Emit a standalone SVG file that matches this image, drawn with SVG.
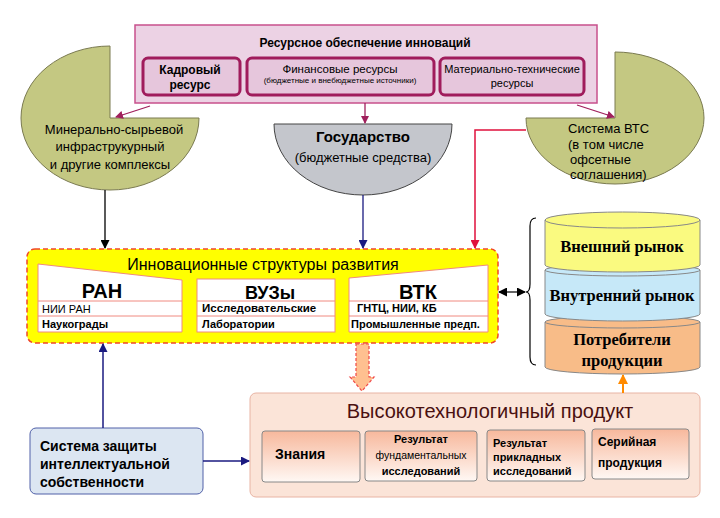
<svg xmlns="http://www.w3.org/2000/svg" width="720" height="518" viewBox="0 0 720 518">
<style>
.s{font-family:"Liberation Sans",Arial,sans-serif;fill:#000}
.b{font-weight:bold}
.m{text-anchor:middle}
.serif{font-family:"Liberation Serif","Times New Roman",serif;font-weight:bold;text-anchor:middle;fill:#000}
.sub{fill:#e6c6dc;stroke:#a01c5c;stroke-width:3}
.row{fill:none;stroke:#f08a80;stroke-width:1}
.wbox{fill:#fff;stroke:#f08a80;stroke-width:1}
.pbox{stroke:#888;stroke-width:1;fill:url(#pg)}
.cyl{stroke:#888;stroke-width:1}
</style>
<defs>
<linearGradient id="pg" x1="0" y1="0" x2="0" y2="1">
<stop offset="0" stop-color="#f7b89c"/>
<stop offset="1" stop-color="#fff8f4"/>
</linearGradient>
<marker id="aM" markerWidth="8" markerHeight="8" refX="7" refY="4" orient="auto" markerUnits="userSpaceOnUse"><path d="M0,0 L8,4 L0,8 z" fill="#a0205c"/></marker>
<marker id="aK" markerWidth="9" markerHeight="9" refX="8" refY="4.5" orient="auto" markerUnits="userSpaceOnUse"><path d="M0,0 L9,4.5 L0,9 z" fill="#000"/></marker>
<marker id="aKs" markerWidth="9" markerHeight="9" refX="1" refY="4.5" orient="auto" markerUnits="userSpaceOnUse"><path d="M9,0 L0,4.5 L9,9 z" fill="#000"/></marker>
<marker id="aN" markerWidth="9" markerHeight="9" refX="8" refY="4.5" orient="auto" markerUnits="userSpaceOnUse"><path d="M0,0 L9,4.5 L0,9 z" fill="#1a1a80"/></marker>
<marker id="aR" markerWidth="9" markerHeight="9" refX="8" refY="4.5" orient="auto" markerUnits="userSpaceOnUse"><path d="M0,0 L9,4.5 L0,9 z" fill="#e0103c"/></marker>
<marker id="aO" markerWidth="10" markerHeight="10" refX="9" refY="5" orient="auto" markerUnits="userSpaceOnUse"><path d="M0,0 L10,5 L0,10 z" fill="#ff8a00"/></marker>
</defs>

<g id="resources">
<rect x="135" y="25" width="462" height="78" fill="#ecd2e4" stroke="#c8508c" stroke-width="1.5"/>
<text class="s b m" x="365" y="47" font-size="12">Ресурсное обеспечение инноваций</text>
<rect class="sub" x="143" y="58" width="97" height="37" rx="5"/>
<text class="s b m" x="190" y="74" font-size="12">Кадровый</text>
<text class="s b m" x="190" y="89" font-size="12">ресурс</text>
<rect class="sub" x="247" y="58" width="187" height="37" rx="5"/>
<text class="s m" x="340" y="73" font-size="11.5">Финансовые ресурсы</text>
<text class="s m" x="340" y="83" font-size="8">(бюджетные и внебюджетные источники)</text>
<rect class="sub" x="440" y="58" width="144" height="37" rx="5"/>
<text class="s m" x="512" y="73" font-size="11">Материально-технические</text>
<text class="s m" x="512" y="87" font-size="11">ресурсы</text>
</g>

<g id="mineral">
<path d="M110,118 L199,118 A89,72 0 1,1 110,46 Z" fill="#c4c882" stroke="#7a7a50" stroke-width="1"/>
<text class="s m" x="114" y="134" font-size="13">Минерально-сырьевой</text>
<text class="s m" x="110" y="151" font-size="13">инфраструкурный</text>
<text class="s m" x="110" y="169" font-size="13">и другие комплексы</text>
</g>

<g id="gov">
<path d="M274,124 L452,124 A89,71 0 0,1 274,124 Z" fill="#c4c6cc" stroke="#444" stroke-width="1"/>
<text class="s b m" x="363" y="142" font-size="15">Государство</text>
<text class="s m" x="363" y="162" font-size="13">(бюджетные средства)</text>
</g>

<g id="vts">
<path d="M615,118 L615,52 A89,66 0 1,1 526,118 Z" fill="#c4c882" stroke="#7a7a50" stroke-width="1"/>
<text class="s" x="568" y="133" font-size="13">Система ВТС</text>
<text class="s" x="568" y="149" font-size="13">(в том числе</text>
<text class="s" x="570" y="164" font-size="13">офсетные</text>
<text class="s" x="570" y="179" font-size="13">соглашения)</text>
</g>

<g id="innov">
<rect x="27" y="249" width="471" height="94" rx="8" fill="#ffff00" stroke="#f04828" stroke-width="1.5" stroke-dasharray="5,3"/>
<text class="s m" x="263" y="270" font-size="16">Инновационные структуры развития</text>
<path class="wbox" d="M38,264 L182,280 L182,332 L38,332 Z"/>
<line class="row" x1="38" y1="301" x2="182" y2="301"/>
<line class="row" x1="38" y1="316" x2="182" y2="316"/>
<text class="s b m" x="102" y="298" font-size="20">РАН</text>
<text class="s" x="42" y="313" font-size="11">НИИ РАН</text>
<text class="s b" x="42" y="328" font-size="11">Наукограды</text>
<rect class="wbox" x="197" y="279" width="138" height="53"/>
<line class="row" x1="197" y1="301" x2="335" y2="301"/>
<line class="row" x1="197" y1="316" x2="335" y2="316"/>
<text class="s b m" x="270" y="299" font-size="18">ВУЗы</text>
<text class="s b" x="202" y="312" font-size="11.5">Исследовательские</text>
<text class="s b" x="202" y="328" font-size="11">Лаборатории</text>
<path class="wbox" d="M349,278 L488,265 L488,332 L349,332 Z"/>
<line class="row" x1="349" y1="301" x2="488" y2="301"/>
<line class="row" x1="349" y1="316" x2="488" y2="316"/>
<text class="s b m" x="418" y="299" font-size="20">ВТК</text>
<text class="s b" x="357" y="312" font-size="11">ГНТЦ, НИИ, КБ</text>
<text class="s b" x="351" y="328" font-size="11">Промышленные предп.</text>
</g>

<g id="markets">
<path class="cyl" d="M545,322 L545,367 A77.5,7 0 0,0 700,367 L700,322 Z" fill="#f8bc88"/>
<ellipse class="cyl" cx="622.5" cy="322" rx="77.5" ry="6" fill="#f8bc88"/>
<path class="cyl" d="M545,270 L545,314 A77.5,7 0 0,0 700,314 L700,270 Z" fill="#c6e8f8"/>
<ellipse class="cyl" cx="622.5" cy="270" rx="77.5" ry="6" fill="#c6e8f8"/>
<path class="cyl" d="M545,220 L545,265 A77.5,7 0 0,0 700,265 L700,220 Z" fill="#fafa80"/>
<ellipse class="cyl" cx="622.5" cy="220" rx="77.5" ry="8" fill="#fafa80"/>
<text class="serif" x="622" y="252" font-size="16.5">Внешний рынок</text>
<text class="serif" x="622" y="301" font-size="16.5">Внутренний рынок</text>
<text class="serif" x="622" y="345" font-size="16.5">Потребители</text>
<text class="serif" x="622" y="366" font-size="16.5">продукции</text>
</g>

<g id="brace">
<path d="M536,218 Q530,218 530,226 L530,284 Q530,292 526,292 Q530,292 530,300 L530,357 Q530,365 536,365" fill="none" stroke="#000" stroke-width="1.2"/>
</g>

<g id="protect">
<rect x="30" y="428" width="173" height="66" rx="6" fill="#dce6f2" stroke="#5060a8" stroke-width="1"/>
<text class="s b" x="40" y="451" font-size="14">Система защиты</text>
<text class="s b" x="40" y="469" font-size="14">интеллектуальной</text>
<text class="s b" x="40" y="487" font-size="14">собственности</text>
</g>

<g id="product">
<rect x="250" y="393" width="450" height="104" rx="6" fill="#fbe4d8" stroke="#e8b4a4" stroke-width="1"/>
<text class="s m" x="490" y="418" font-size="20" style="fill:#4a1010">Высокотехнологичный продукт</text>
<rect class="pbox" x="262" y="431" width="98" height="51" rx="3"/>
<text class="s b" x="275" y="459" font-size="14">Знания</text>
<rect class="pbox" x="365" y="431" width="112" height="50" rx="3"/>
<text class="s b m" x="421" y="443" font-size="11">Результат</text>
<text class="s m" x="421" y="459" font-size="10.5">фундаментальных</text>
<text class="s b m" x="421" y="475" font-size="11">исследований</text>
<rect class="pbox" x="487" y="430" width="98" height="51" rx="3"/>
<text class="s b" x="493" y="447" font-size="11">Результат</text>
<text class="s b" x="493" y="461" font-size="11">прикладных</text>
<text class="s b" x="493" y="475" font-size="11">исследований</text>
<rect class="pbox" x="592" y="429" width="97" height="50" rx="3"/>
<text class="s b" x="598" y="446" font-size="12">Серийная</text>
<text class="s b" x="598" y="467" font-size="12">продукция</text>
</g>

<g id="connectors">
<line x1="150" y1="106" x2="116" y2="117" stroke="#a0205c" stroke-width="1.3" marker-end="url(#aM)"/>
<line x1="365" y1="103" x2="365" y2="123" stroke="#a0205c" stroke-width="1.3" marker-end="url(#aM)"/>
<line x1="577" y1="105" x2="614" y2="117" stroke="#a0205c" stroke-width="1.3" marker-end="url(#aM)"/>
<line x1="105" y1="190" x2="105" y2="248" stroke="#000" stroke-width="1.3" marker-end="url(#aK)"/>
<line x1="363" y1="195" x2="363" y2="248" stroke="#1a1a80" stroke-width="1.3" marker-end="url(#aN)"/>
<polyline points="526,130 475,130 475,248" fill="none" stroke="#e0103c" stroke-width="1.5" marker-end="url(#aR)"/>
<line x1="499" y1="292" x2="525" y2="292" stroke="#000" stroke-width="1.2" marker-start="url(#aKs)" marker-end="url(#aK)"/>
<path d="M356,344 L369,344 L369,377 L374,377 L362,391 L350,377 L356,377 Z" fill="#ffc090" stroke="#f04848" stroke-width="1.2" stroke-dasharray="3,2"/>
<line x1="623" y1="393" x2="623" y2="375" stroke="#ff8a00" stroke-width="2" marker-end="url(#aO)"/>
<line x1="103" y1="428" x2="103" y2="344" stroke="#1a1a80" stroke-width="1.5" marker-end="url(#aN)"/>
<line x1="203" y1="461" x2="249" y2="461" stroke="#1a1a80" stroke-width="1.5" marker-end="url(#aN)"/>
</g>
</svg>
